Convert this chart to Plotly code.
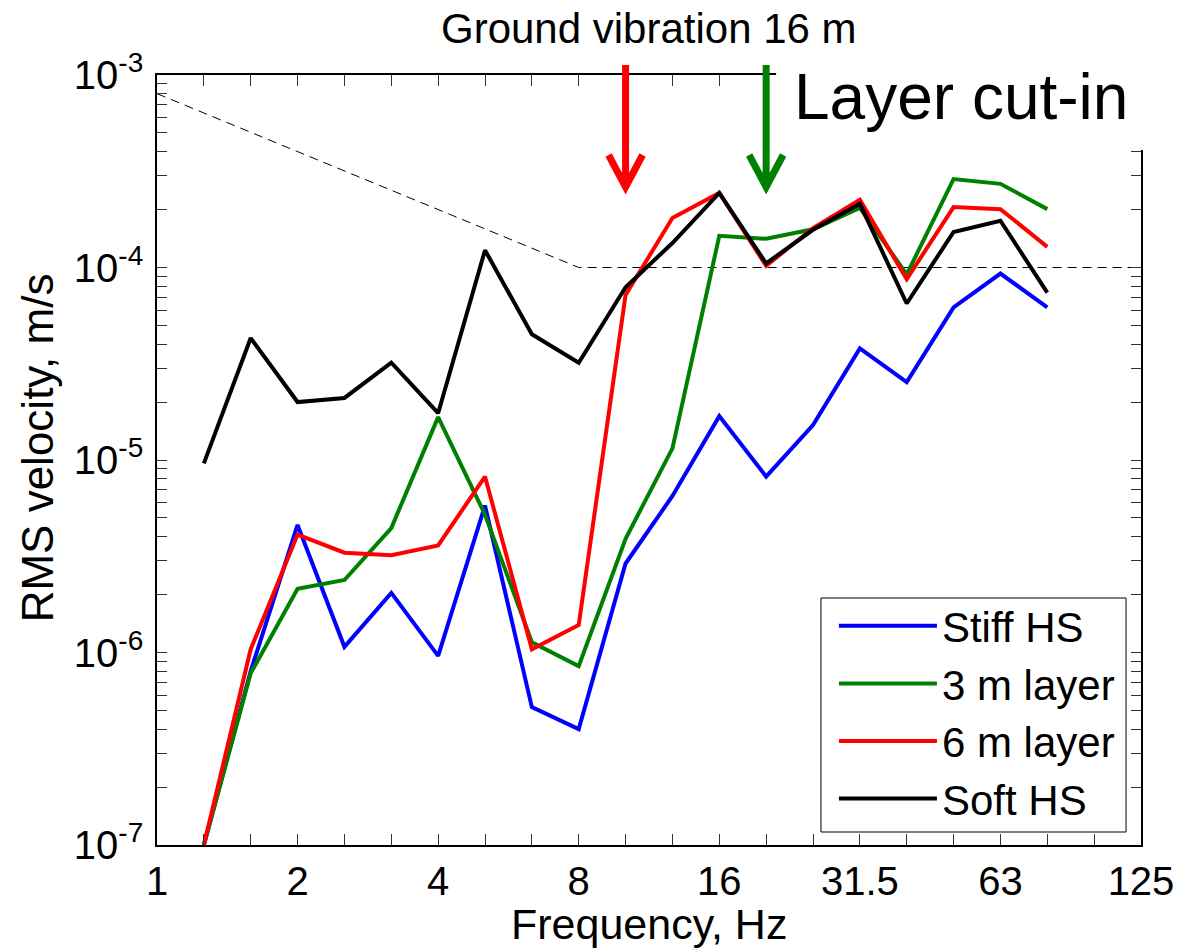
import math
import plotly.graph_objects as go

# ---------------- data ----------------
freqs = [1.25, 1.6, 2, 2.5, 3.15, 4, 5, 6.3, 8, 10, 12.5, 16, 20, 25, 31.5, 40, 50, 63, 80]
stiff_hs = [1.0e-7, 8.0e-7, 4.6e-6, 1.07e-6, 2.04e-6, 9.6e-7, 5.8e-6, 5.2e-7, 4.0e-7, 2.9e-6,
            6.5e-6, 1.69e-5, 8.2e-6, 1.52e-5, 3.8e-5, 2.54e-5, 6.2e-5, 9.3e-5, 6.2e-5]
layer_3m = [1.0e-7, 7.8e-7, 2.14e-6, 2.38e-6, 4.43e-6, 1.67e-5, 5.2e-6, 1.13e-6, 8.5e-7, 3.9e-6,
            1.15e-5, 1.46e-4, 1.41e-4, 1.58e-4, 2.04e-4, 9.2e-5, 2.88e-4, 2.72e-4, 2.01e-4]
layer_6m = [1.0e-7, 1.04e-6, 4.1e-6, 3.3e-6, 3.2e-6, 3.6e-6, 8.2e-6, 1.04e-6, 1.39e-6, 7.2e-5,
            1.81e-4, 2.44e-4, 1.02e-4, 1.6e-4, 2.25e-4, 8.7e-5, 2.06e-4, 2.01e-4, 1.28e-4]
soft_hs = [9.6e-6, 4.3e-5, 2.0e-5, 2.1e-5, 3.2e-5, 1.75e-5, 1.23e-4, 4.5e-5, 3.2e-5, 7.9e-5,
           1.34e-4, 2.44e-4, 1.05e-4, 1.57e-4, 2.14e-4, 6.5e-5, 1.53e-4, 1.75e-4, 7.4e-5]

criterion_freqs = [1, 8, 125]
criterion_vals = [8e-4, 1e-4, 1e-4]

octave_labels = ["1", "2", "4", "8", "16", "31.5", "63", "125"]
arrow_freqs = [10, 20]          # red: 6 m layer, green: 3 m layer
series_names = ["Stiff HS", "3 m layer", "6 m layer", "Soft HS"]
series_colors = ["#0000ff", "#008000", "#ff0000", "#000000"]

FONT = "Liberation Sans, Arial, Helvetica, sans-serif"


def band_pos(f):
    """Nominal 1/3-octave frequency -> exact base-2 band centre (axis position)."""
    return 2 ** (round(3 * math.log2(f)) / 3)


x = [band_pos(f) for f in freqs]

fig = go.Figure()
fig.add_trace(go.Scatter(x=[band_pos(f) for f in criterion_freqs], y=criterion_vals,
                         mode="lines", line=dict(color="black", width=1, dash="9px,6px"),
                         showlegend=False, hoverinfo="skip"))
for name, vals, col in zip(series_names, [stiff_hs, layer_3m, layer_6m, soft_hs], series_colors):
    fig.add_trace(go.Scatter(x=x, y=vals, mode="lines", name=name,
                             line=dict(color=col, width=4)))

# ticks
n_bands = 22
xtickvals = [2 ** k for k in range(8)]
xminor = [2 ** (k / 3) for k in range(n_bands) if k % 3 != 0]
ytickvals = [10.0 ** d for d in range(-7, -2)]
yticktext = [f"10<sup>{d}</sup>" for d in range(-7, -2)]
yminor = [m * 10.0 ** d for d in range(-7, -3) for m in range(2, 10)]

L, R, T, B = 157, 42, 75, 106
W, H = 1186, 951
PW, PH = W - L - R, H - T - B


def py(px):   # pixel y -> paper y
    return (H - B - px) / PH


def pxx(px):  # pixel x -> paper x
    return (px - L) / PW


fig.update_layout(
    width=W, height=H,
    margin=dict(l=L, r=R, t=T, b=B),
    paper_bgcolor="white", plot_bgcolor="white",
    font=dict(family=FONT, color="black", size=40),
    xaxis=dict(type="log", range=[0, math.log10(2 ** 7)], tickmode="array",
               tickvals=xtickvals, ticktext=octave_labels, ticks="inside", ticklen=11,
               tickcolor="#333", tickwidth=1, showline=True, linecolor="black", linewidth=1.5,
               mirror="ticks", showgrid=False, zeroline=False,
               minor=dict(tickmode="array", tickvals=xminor, ticks="inside", ticklen=11,
                          tickcolor="#333", tickwidth=1, showgrid=False),
               tickfont=dict(size=40, family=FONT), ticklabelstandoff=0),
    yaxis=dict(type="log", range=[-7, -3], tickmode="array",
               tickvals=ytickvals, ticktext=yticktext, ticks="inside", ticklen=10,
               tickcolor="#333", tickwidth=1, showline=True, linecolor="black", linewidth=1.5,
               mirror="ticks", showgrid=False, zeroline=False,
               minor=dict(tickmode="array", tickvals=yminor, ticks="inside", ticklen=10,
                          tickcolor="#333", tickwidth=1, showgrid=False),
               tickfont=dict(size=40, family=FONT), ticklabelstandoff=4),
    legend=dict(x=pxx(836), y=py(592), xanchor="left", yanchor="top",
                bgcolor="rgba(0,0,0,0)", borderwidth=0,
                font=dict(size=42, family=FONT), itemwidth=98),
    showlegend=True,
)

shapes = [
    # legend frame
    dict(type="rect", xref="paper", yref="paper", x0=pxx(823), x1=pxx(1129),
         y0=py(832), y1=py(598), fillcolor="white", line=dict(color="black", width=1),
         layer="below"),
    # white backing of the "Layer cut-in" label (covers the axes corner)
    dict(type="rect", xref="paper", yref="paper", x0=pxx(778), x1=pxx(W + 5),
         y0=py(150), y1=py(-5), fillcolor="white", line=dict(width=0), layer="above"),
]
tip_y = py(187)
for f, col in zip(arrow_freqs, ["#ff0000", "#008000"]):
    shapes.append(dict(type="path", xref="x", xsizemode="pixel", xanchor=band_pos(f),
                       yref="paper", ysizemode="pixel", yanchor=tip_y,
                       path="M0,0 L0,122 M-17,32 L0,0 L17,32",
                       line=dict(color=col, width=7), layer="above"))
fig.update_layout(shapes=shapes)

annotations = [
    dict(text="Ground vibration 16 m", xref="paper", yref="paper", x=0.5, y=py(28),
         xanchor="center", yanchor="middle", showarrow=False, font=dict(size=42, family=FONT)),
    dict(text="Layer cut-in", xref="paper", yref="paper", x=pxx(794), y=py(97),
         xanchor="left", yanchor="middle", showarrow=False, font=dict(size=64, family=FONT)),
    dict(text="Frequency, Hz", xref="paper", yref="paper", x=0.5, y=py(924),
         xanchor="center", yanchor="middle", showarrow=False, font=dict(size=43, family=FONT)),
    dict(text="RMS velocity, m/s", xref="paper", yref="paper", x=pxx(37), y=py(448),
         xanchor="center", yanchor="middle", textangle=-90, showarrow=False,
         font=dict(size=44, family=FONT)),
]
fig.update_layout(annotations=annotations)

fig.write_html("out.html", config={"displayModeBar": False},
               post_script="document.body.style.margin='0px';")
